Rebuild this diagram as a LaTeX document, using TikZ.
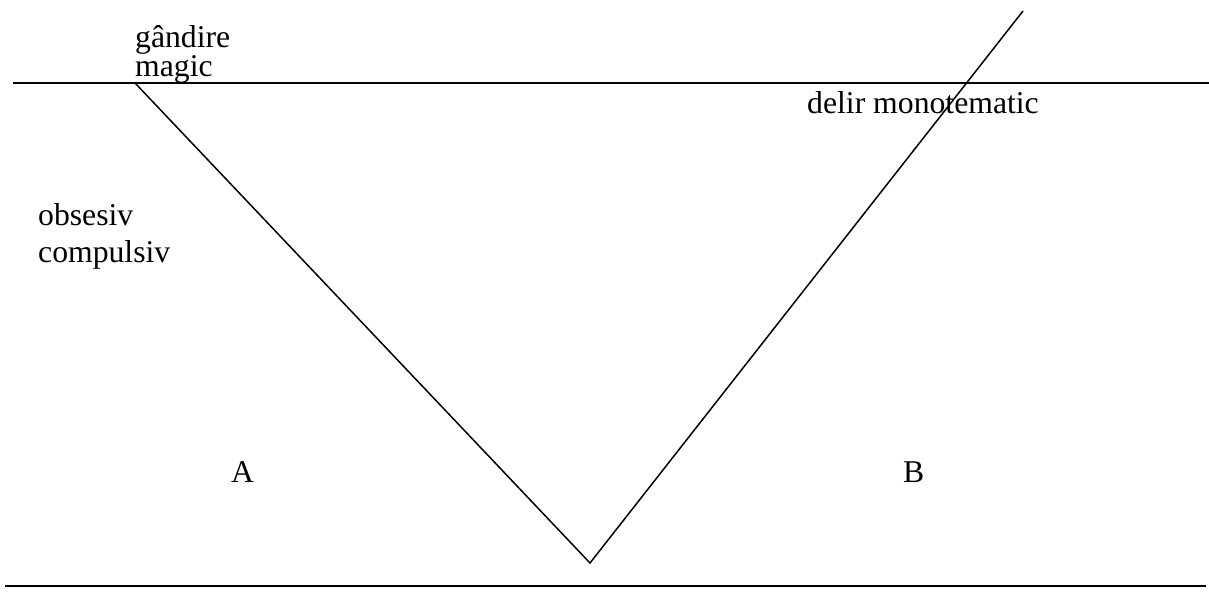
\documentclass[tikz,border=0pt]{standalone}
\usepackage{fontspec}
\setmainfont{Liberation Serif}

\begin{document}
\begin{tikzpicture}[x=1pt, y=-1pt,
  label/.style={anchor=base west, inner sep=0pt, font=\fontsize{31.7}{37}\selectfont},
  rule/.style={line width=1.4pt},
  leg/.style={line width=1.5pt}]

% page frame (pixel coordinates, y downwards)
\useasboundingbox (0,0) rectangle (1209,592);

% Horizontal lines
\coordinate (topL) at (13,83);
\coordinate (topR) at (1209,83);
\coordinate (botL) at (5,586);
\coordinate (botR) at (1206,586);
\draw[rule] (topL) -- (topR);
\draw[line width=2pt] (botL) -- (botR);

% The V
\coordinate (legA) at (135,83);
\coordinate (tip) at (590,563);
\coordinate (legB) at (1023,11);
\draw[leg] (legA) -- (tip) -- (legB);

% Labels
\node[label] (gandire) at (135,47) {gândire};
\node[label] (magic) at (135,76) {magic};
\node[label] (delir) at (807,113) {delir monotematic};
\node[label] (obsesiv) at (38,225) {obsesiv};
\node[label] (compulsiv) at (38,262) {compulsiv};
\node[label] (labA) at (231,482) {A};
\node[label] (labB) at (903,482) {B};

\end{tikzpicture}
\end{document}
